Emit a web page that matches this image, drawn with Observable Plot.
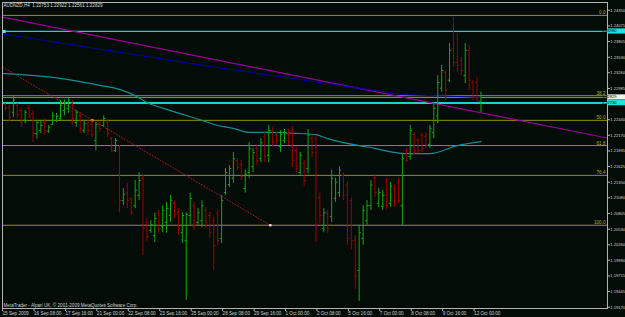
<!DOCTYPE html>
<html><head><meta charset="utf-8">
<script src="https://cdn.jsdelivr.net/npm/d3@7"></script>
<script src="https://cdn.jsdelivr.net/npm/@observablehq/plot@0.6"></script>
<style>html,body{margin:0;padding:0;background:#040c08;} svg{display:block}</style>
</head><body><div id="chart"></div>
<script>
const headerText = "AUDNZD,H4  1.22753 1.22922 1.22561 1.22829";
const footerText = "MetaTrader - Alpari UK, © 2001-2009 MetaQuotes Software Corp.";

const opens = [1.2271,1.2265,1.2257,1.2269,1.2260,1.2243,1.2264,1.2255,1.2220,1.2225,1.2239,1.2224,1.2236,1.2243,1.2246,1.2260,1.2264,1.2272,1.2239,1.2251,1.2225,1.2237,1.2236,1.2208,1.2236,1.2234,1.2239,1.2211,1.2190,1.2196,1.2103,1.2116,1.2107,1.2094,1.2112,1.2142,1.2065,1.2051,1.2042,1.2081,1.2058,1.2065,1.2077,1.2098,1.2082,1.2047,1.2033,1.2077,1.2094,1.2065,1.2068,1.2086,1.2077,1.2068,1.2081,1.2037,1.2117,1.2131,1.2142,1.2173,1.2166,1.2124,1.2152,1.2162,1.2194,1.2176,1.2215,1.2182,1.2225,1.2218,1.2197,1.2208,1.2222,1.2225,1.2190,1.2152,1.2168,1.2159,1.2211,1.2211,1.2108,1.2054,1.2081,1.2075,1.2107,1.2117,1.2147,1.2130,1.2103,1.2033,1.1981,1.2037,1.2068,1.2094,1.2142,1.2098,1.2093,1.2135,1.2098,1.2124,1.2135,1.2094,1.2190,1.2180,1.2218,1.2208,1.2217,1.2215,1.2201,1.2222,1.2251,1.2299,1.2327,1.2313,1.2368,1.2344,1.2347,1.2321,1.2365,1.2309,1.2309,1.22753];
const highs = [1.2272,1.2269,1.2285,1.2272,1.2264,1.2260,1.2269,1.2260,1.2243,1.2243,1.2246,1.2234,1.2257,1.2255,1.2278,1.2279,1.2281,1.2278,1.2260,1.2257,1.2243,1.2243,1.2243,1.2239,1.2239,1.2251,1.2243,1.2213,1.2211,1.2199,1.2124,1.2133,1.2108,1.2138,1.2152,1.2147,1.2072,1.2068,1.2081,1.2086,1.2094,1.2100,1.2112,1.2103,1.2089,1.2082,1.2082,1.2116,1.2100,1.2089,1.2103,1.2091,1.2082,1.2074,1.2086,1.2112,1.2159,1.2164,1.2187,1.2176,1.2173,1.2156,1.2204,1.2194,1.2199,1.2211,1.2222,1.2234,1.2231,1.2222,1.2225,1.2227,1.2227,1.2232,1.2196,1.2187,1.2173,1.2227,1.2217,1.2217,1.2116,1.2089,1.2086,1.2156,1.2142,1.2162,1.2152,1.2135,1.2108,1.2042,1.2060,1.2094,1.2103,1.2138,1.2147,1.2124,1.2121,1.2142,1.2135,1.2130,1.2142,1.2185,1.2194,1.2234,1.2222,1.2211,1.2220,1.2220,1.2234,1.2272,1.2321,1.2339,1.2330,1.2377,1.2422,1.2394,1.2353,1.2377,1.2374,1.2313,1.2318,1.22922];
const lows = [1.2260,1.2241,1.2248,1.2246,1.2231,1.2237,1.2246,1.2204,1.2210,1.2220,1.2217,1.2220,1.2234,1.2239,1.2243,1.2251,1.2255,1.2234,1.2231,1.2220,1.2220,1.2217,1.2213,1.2190,1.2222,1.2231,1.2213,1.2187,1.2187,1.2081,1.2094,1.2089,1.2077,1.2089,1.2103,1.2007,1.2030,1.2046,1.2030,1.2046,1.2047,1.2046,1.2065,1.2072,1.2042,1.2028,1.1929,1.2060,1.2051,1.2060,1.2056,1.2054,1.2037,1.1981,1.2025,1.2028,1.2112,1.2126,1.2133,1.2156,1.2138,1.2116,1.2142,1.2152,1.2164,1.2169,1.2169,1.2169,1.2196,1.2199,1.2187,1.2203,1.2199,1.2161,1.2152,1.2147,1.2126,1.2150,1.2178,1.2030,1.2063,1.2047,1.2046,1.2065,1.2100,1.2108,1.2103,1.2025,1.2016,1.1948,1.1927,1.2025,1.2060,1.2086,1.2108,1.2091,1.2086,1.2086,1.2091,1.2091,1.2098,1.2058,1.2169,1.2173,1.2182,1.2185,1.2187,1.2194,1.2194,1.2211,1.2237,1.2292,1.2278,1.2309,1.2335,1.2327,1.2321,1.2307,1.2295,1.2278,1.2274,1.22561];
const closes = [1.2264,1.2248,1.2278,1.2253,1.2239,1.2257,1.2251,1.2220,1.2239,1.2234,1.2225,1.2231,1.2251,1.2250,1.2269,1.2274,1.2278,1.2246,1.2257,1.2229,1.2237,1.2225,1.2218,1.2236,1.2229,1.2246,1.2220,1.2190,1.2208,1.2103,1.2114,1.2103,1.2082,1.2121,1.2138,1.2054,1.2040,1.2061,1.2072,1.2054,1.2086,1.2089,1.2103,1.2079,1.2054,1.2077,1.2079,1.2107,1.2060,1.2082,1.2094,1.2065,1.2047,1.2025,1.2033,1.2103,1.2152,1.2159,1.2176,1.2161,1.2145,1.2149,1.2194,1.2187,1.2173,1.2204,1.2180,1.2225,1.2204,1.2208,1.2218,1.2222,1.2206,1.2173,1.2159,1.2182,1.2138,1.2217,1.2187,1.2060,1.2077,1.2082,1.2054,1.2142,1.2135,1.2156,1.2112,1.2037,1.2033,1.1972,1.2047,1.2086,1.2094,1.2130,1.2117,1.2117,1.2112,1.2094,1.2128,1.2098,1.2103,1.2176,1.2173,1.2225,1.2190,1.2190,1.2194,1.2199,1.2229,1.2264,1.2309,1.2330,1.2295,1.2365,1.2344,1.2339,1.2330,1.2365,1.2313,1.2283,1.2278,1.22829];

const priceTicks = [1.24350,1.24075,1.23805,1.23530,1.23260,1.22985,1.22715,1.22440,1.22170,1.21895,1.21625,1.21350,1.21080,1.20805,1.20530,1.20260,1.19990,1.19715,1.19445,1.19170];
const timeTickBars = [-1,7,15,23,31,39,47,55,63,71,79,87,95,103,111,119];
const timeTickLabels = ["15 Sep 2009","16 Sep 08:00","17 Sep 16:00","21 Sep 00:00","22 Sep 08:00","23 Sep 16:00","25 Sep 00:00","28 Sep 08:00","29 Sep 16:00","1 Oct 00:00","2 Oct 08:00","5 Oct 16:00","7 Oct 00:00","8 Oct 08:00","9 Oct 16:00","12 Oct 00:00"];

const fibLabels = ["0.0","38.2","50.0","61.8","76.4","100.0"];
const fibPrices = [1.2426,1.2286,1.2243,1.2199,1.2147,1.2060];

const tealMaBars = [-1,12,24,29,33,36,42,50,54,58,62,67,75,79,82,86,90,94,99,102,108,115,121];
const tealMaValues = [1.2325,1.2318,1.2304,1.2297,1.2286,1.2274,1.2260,1.2243,1.2234,1.2229,1.2222,1.2222,1.2220,1.2218,1.2211,1.2204,1.2199,1.2194,1.2187,1.2185,1.2185,1.2199,1.2206];
const blueMaBars = [-1,52,101,121];
const blueMaValues = [1.2394,1.2337,1.2288,1.2283];

const trendBars = [-0.76,153.2];
const trendValues = [1.2423,1.2212];
const dottedBars = [-0.76,22.1,67.4];
const dottedValues = [1.2336,1.2243,1.2060];

const cyanLevels = [1.2398,1.2273];
const cyanLabels = ["1.23980","1.22730"];
const bidPrice = 1.22829;
const bidLabel = "1.22829";

const bars = d3.range(opens.length).map(i => ({i, o: opens[i], h: highs[i], l: lows[i], c: closes[i]}));
const barColor = d => d.c >= d.o ? "#12a812" : "#a00000";
const pts = (xs, vs) => xs.map((b, k) => ({b, v: vs[k]}));
const timeLabelMap = new Map(timeTickBars.map((b, k) => [b, timeTickLabels[k]]));
// the axis label hidden behind the cyan price box in the original is not drawn
const shownPriceTicks = priceTicks.filter(t => Math.abs(t - cyanLevels[1]) > 0.0004);

const olive = "#939314";
const chart = Plot.plot({
  width: 625, height: 317,
  marginLeft: 2, marginRight: 18, marginTop: 2, marginBottom: 9,
  x: {domain: [-0.76, 153.2]},
  y: {domain: [1.19148, 1.24485]},
  color: {type: "identity"},
  style: {background: "#040c08", color: "#d0d0d0", fontFamily: "'Liberation Sans', Arial, sans-serif", fontSize: "4.6px"},
  marks: [
    Plot.ruleY(fibPrices, {stroke: olive, strokeWidth: 1}),
    Plot.text(fibLabels, {y: (d, k) => fibPrices[k], text: d => d, frameAnchor: "right", textAnchor: "end", dx: -2, dy: -2.5, fill: "#b0b020"}),
    Plot.ruleY([bidPrice], {stroke: "#8a8a8a"}),
    Plot.ruleY(cyanLevels, {stroke: "#20d0d0", strokeWidth: (d, k) => k === 1 ? 2 : 1.3}),
    Plot.dot([cyanLevels[0]], {y: d => d, frameAnchor: "left", dx: 1.5, symbol: "square", r: 1.8, fill: "#40f0f0"}),
    Plot.line(pts(trendBars, trendValues), {x: "b", y: "v", stroke: "#9a009a", strokeWidth: 1.2, clip: true}),
    Plot.line(pts(blueMaBars, blueMaValues), {x: "b", y: "v", stroke: "#0000b0", strokeWidth: 1, clip: true}),
    Plot.line(pts(tealMaBars, tealMaValues), {x: "b", y: "v", stroke: "#0f8f96", strokeWidth: 1.2, curve: "monotone-x", clip: true}),
    Plot.line(pts([dottedBars[0], dottedBars[2]], [dottedValues[0], dottedValues[2]]), {x: "b", y: "v", stroke: "#b01818", strokeWidth: 1, strokeDasharray: "1,2", clip: true}),
    Plot.dot(pts([dottedBars[1]], [dottedValues[1]]), {x: "b", y: "v", symbol: "square", r: 1.3, fill: "#ffb070"}),
    Plot.dot(pts([dottedBars[2]], [dottedValues[2]]), {x: "b", y: "v", symbol: "square", r: 1.3, fill: "#ffe0e0"}),
    Plot.ruleX(bars, {x: "i", y1: "l", y2: "h", stroke: barColor, strokeWidth: 1}),
    Plot.link(bars, {x1: d => d.i - 0.45, x2: "i", y1: "o", y2: "o", stroke: barColor, strokeWidth: 1}),
    Plot.link(bars, {x1: "i", x2: d => d.i + 0.45, y1: "c", y2: "c", stroke: barColor, strokeWidth: 1}),
    Plot.frame({stroke: "#b4b4b4"}),
    Plot.axisY(shownPriceTicks, {anchor: "right", tickSize: 2, tickPadding: 0.8, tickFormat: d => d.toFixed(5), stroke: "#b4b4b4", fill: "#d0d0d0", fontSize: "4.1px", label: null}),
    Plot.axisX(timeTickBars, {anchor: "bottom", tickSize: 3, tickPadding: 0.5, tickFormat: d => timeLabelMap.get(d), textAnchor: "start", dx: 1, stroke: "#b4b4b4", fill: "#d0d0d0", label: null}),
    Plot.text([headerText], {frameAnchor: "top-left", dx: 1, dy: 1, lineAnchor: "top", textAnchor: "start", fill: "#d8d8d8"}),
    Plot.text([footerText], {frameAnchor: "bottom-left", dx: 1, dy: -2, lineAnchor: "bottom", textAnchor: "start", fill: "#d0d0d0"})
  ]
});

const ys = chart.scale("y");
const svg = d3.select(chart);
const boxes = [
  {v: cyanLevels[0], t: cyanLabels[0], fill: "#20e0e0"},
  {v: bidPrice, t: bidLabel, fill: "#f0f0f0"},
  {v: cyanLevels[1], t: cyanLabels[1], fill: "#20e0e0"}
];
const g = svg.append("g");
boxes.forEach(b => {
  const yy = ys.apply(b.v);
  g.append("rect").attr("x", 608).attr("y", yy - 2.6).attr("width", 17).attr("height", 5.2).attr("fill", b.fill);
  g.append("text").attr("x", 609.3).attr("y", yy).attr("dy", "0.35em").attr("fill", "#000")
    .attr("font-family", "'Liberation Sans', Arial, sans-serif").attr("font-size", "4px").text(b.t);
});
document.getElementById("chart").appendChild(chart);
</script>
</body></html>
